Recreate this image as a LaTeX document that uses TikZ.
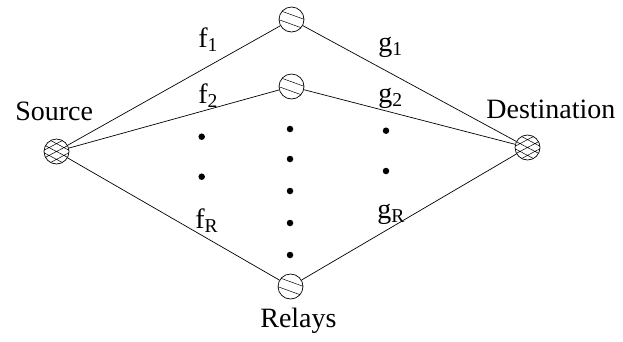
\documentclass[tikz,border=0pt]{standalone}
\usepackage{fontspec}
\setmainfont{Liberation Serif}

\begin{document}
\begin{tikzpicture}[x=1pt,y=-1pt,line width=0.7pt]
\tikzstyle{every node}+=[inner sep=0pt]
\tikzstyle{relay}=[circle,draw,minimum size=25pt,
  path picture={\draw[line width=0.5pt,shift={(path picture bounding box.center)}]
    (-12.6,-9.3) -- (15.6,0.9) (-15.6,-0.9) -- (12.6,9.3);}]
\tikzstyle{term}=[circle,draw,minimum size=25pt,
  path picture={\draw[line width=0.5pt,shift={(path picture bounding box.center)}]
    (-13.3,-7.0) -- (13.3,7.0) (-16.5,-0.9) -- (10.0,13.2) (-10.0,-13.2) -- (16.5,0.9)
    (-13.3,7.0) -- (13.3,-7.0) (-10.0,13.2) -- (16.5,-0.9) (-16.5,0.9) -- (10.0,-13.2);}]
\tikzstyle{dot}=[circle,fill=black,minimum size=6.5pt]
\tikzstyle{lbl}=[anchor=base west,font=\fontsize{28}{30}\selectfont]
\useasboundingbox (0,0) rectangle (623,341);
% terminals and relays
\node[term] (src) at (56.5,151.5) {};
\node[term] (dst) at (527.5,147.5) {};
\node[relay] (r1) at (291.5,19.5) {};
\node[relay] (r2) at (291.5,86.5) {};
\node[relay] (rR) at (290.5,286.5) {};
% links
\draw (src) -- (r1) -- (dst);
\draw (src) -- (r2) -- (dst);
\draw (src) -- (rR) -- (dst);
% dots
\node[dot] (fd1) at (201.7,136.7) {};
\node[dot] (fd2) at (201.7,176.7) {};
\node[dot] (gd1) at (386,130.7) {};
\node[dot] (gd2) at (386,171) {};
\foreach \y [count=\i] in {129,159,191,223,255}
  \node[dot] (rd\i) at (290,\y) {};
% labels
\node[lbl] (f1) at (198,47) {f\textsubscript{1}};
\node[lbl] (f2) at (198,103) {f\textsubscript{2}};
\node[lbl] (fR) at (195,228) {f\textsubscript{R}};
\node[lbl] (g1) at (378,51) {g\textsubscript{1}};
\node[lbl] (g2) at (378,102) {g\textsubscript{2}};
\node[lbl] (gR) at (377,218) {g\textsubscript{R}};
\node[lbl] (srclbl) at (15,120) {Source};
\node[lbl] (dstlbl) at (486,118) {Destination};
\node[lbl] (rlbl) at (260,327) {Relays};
\end{tikzpicture}
\end{document}
